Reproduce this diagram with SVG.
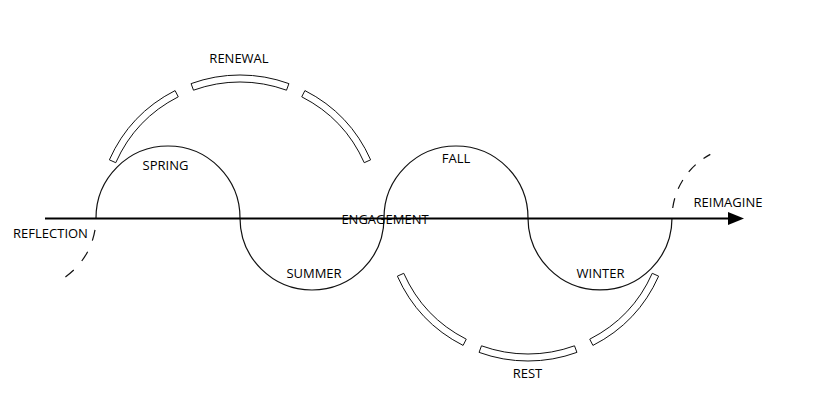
<svg xmlns="http://www.w3.org/2000/svg" width="822" height="403" viewBox="0 0 822 403">
<style>
.wave{fill:none;stroke:#111;stroke-width:1.2}
.dash{fill:none;stroke:#111;stroke-width:1.2}
.band{fill:#fff;stroke:#111;stroke-width:1}
.axis{fill:none;stroke:#000;stroke-width:2}
text{font-family:"Open Sans","Noto Sans","Liberation Sans",sans-serif;font-size:13px;fill:#000;text-anchor:middle}
</style>
<rect width="822" height="403" fill="#fff"/>
<g id="connectors">
<path class="wave" d="M 96 218 A 72 72 0 0 1 240 218 A 72 72 0 0 0 384 218 A 72 72 0 0 1 528 218 A 72 72 0 0 0 672 218"/>
<path class="dash" stroke-dasharray="11 12" stroke-dashoffset="11" d="M 96 218 A 72 72 0 0 1 65.4 276.9"/>
<path class="dash" stroke-dasharray="10 10" stroke-dashoffset="10" d="M 672 218 A 72 72 0 0 1 710.3 154.4"/>
<line class="axis" x1="45" y1="218.5" x2="730" y2="218.5"/>
<polygon points="728,212 744,218.5 728,225" fill="#000"/>
</g>
<g id="renewal">
<path class="band" d="M 175.08 90.59 A 143 143 0 0 0 109.37 159.84 L 115.76 162.69 A 136 136 0 0 1 178.26 96.82 Z"/>
<path class="band" d="M 191.09 83.62 A 143 143 0 0 1 288.91 83.62 L 286.51 90.20 A 136 136 0 0 0 193.49 90.20 Z"/>
<path class="band" d="M 304.92 90.59 A 143 143 0 0 1 370.63 159.84 L 364.24 162.69 A 136 136 0 0 0 301.74 96.82 Z"/>
<text x="239" y="63">RENEWAL</text>
</g>
<g id="rest">
<path class="band" d="M 397.37 276.16 A 143 143 0 0 0 463.08 345.41 L 466.26 339.18 A 136 136 0 0 1 403.76 273.31 Z"/>
<path class="band" d="M 479.09 352.38 A 143 143 0 0 0 576.91 352.38 L 574.51 345.80 A 136 136 0 0 1 481.49 345.80 Z"/>
<path class="band" d="M 592.92 345.41 A 143 143 0 0 0 658.63 276.16 L 652.24 273.31 A 136 136 0 0 1 589.74 339.18 Z"/>
<text x="527.5" y="378">REST</text>
</g>
<g id="spring"><text x="165.5" y="169.5">SPRING</text></g>
<g id="summer"><text x="314" y="278">SUMMER</text></g>
<g id="engagement"><text x="385" y="224">ENGAGEMENT</text></g>
<g id="fall"><text x="456" y="163">FALL</text></g>
<g id="winter"><text x="600.5" y="277.5">WINTER</text></g>
<g id="reflection"><text x="50.5" y="237.5">REFLECTION</text></g>
<g id="reimagine"><text x="728" y="207">REIMAGINE</text></g>
</svg>
